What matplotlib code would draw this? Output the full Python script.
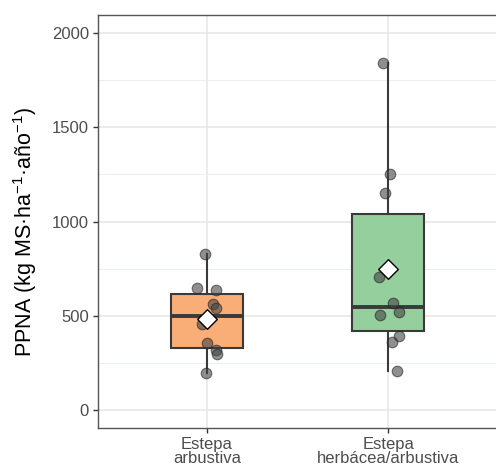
import numpy as np
import matplotlib
matplotlib.use("Agg")
import matplotlib.pyplot as plt
from matplotlib.ticker import MultipleLocator

plt.rcParams['font.family'] = ['Liberation Sans', 'DejaVu Sans']
plt.rcParams['mathtext.fontset'] = 'custom'
plt.rcParams['mathtext.rm'] = 'Liberation Sans'
plt.rcParams['mathtext.it'] = 'Liberation Sans'

# data
categories = ["Estepa\narbustiva", "Estepa\nherbácea/arbustiva"]
ppna_arbustiva = [825, 645, 635, 561, 538, 455, 352, 317, 296, 193]
ppna_herbacea = [1843, 1252, 1149, 706, 568, 520, 504, 391, 361, 207]
# horizontal jitter of each point (category units)
jitter_arbustiva = [-0.01, -0.055, 0.05, 0.033, 0.051, -0.028, 0.003, 0.05, 0.055, -0.004]
jitter_herbacea = [-0.028, 0.009, -0.018, -0.051, 0.024, 0.057, -0.046, 0.061, 0.019, 0.05]

box_colors = ["#F9AE78", "#94CF9D"]
edge = "#3a3a3a"

fig = plt.figure(figsize=(4.96, 4.73), dpi=100)
ax = fig.add_axes([98 / 496, 45 / 473, 399 / 496, 413 / 473])

groups = [ppna_arbustiva, ppna_herbacea]
jitters = [jitter_arbustiva, jitter_herbacea]
positions = [1, 2]

bp = ax.boxplot(groups, positions=positions, widths=0.4, patch_artist=True,
                whis=1.5, showfliers=False, showcaps=False,
                medianprops=dict(color=edge, linewidth=2.8),
                whiskerprops=dict(color=edge, linewidth=1.5),
                boxprops=dict(edgecolor=edge, linewidth=1.5), zorder=2)
for patch, c in zip(bp["boxes"], box_colors):
    patch.set_facecolor(c)

for pos, vals, jit in zip(positions, groups, jitters):
    ax.scatter(pos + np.array(jit), vals, s=58, color="#444444", alpha=0.6,
               edgecolors="#222222", linewidths=0.8, zorder=3)
    ax.scatter([pos], [np.mean(vals)], marker="D", s=100, color="white",
               edgecolors="black", linewidths=1.0, zorder=4)

ax.set_xlim(0.4, 2.6)
ax.set_ylim(-97, 2097)
ax.set_xticks(positions)
ax.set_xticklabels(categories, fontsize=12, color="#4d4d4d", linespacing=0.92)
ax.yaxis.set_major_locator(MultipleLocator(500))
ax.yaxis.set_minor_locator(MultipleLocator(250))
ax.tick_params(axis="y", labelsize=12, labelcolor="#4d4d4d", length=3.5,
               width=1, color="#333333", pad=3)
ax.tick_params(axis="x", length=3.5, width=1, color="#333333", pad=3)
ax.tick_params(which="minor", length=0)

ax.grid(which="major", color="#e3e5e7", linewidth=1.1, zorder=0)
ax.grid(which="minor", color="#eceef0", linewidth=0.8, zorder=0)
ax.set_axisbelow(True)
for side in ["left", "bottom", "top"]:
    ax.spines[side].set_color("#555555")
    ax.spines[side].set_linewidth(1.0)
ax.spines["right"].set_visible(False)

ax.set_ylabel("PPNA (kg MS·ha$^{-1}$·año$^{-1}$)", fontsize=15.5, color="black")
ax.yaxis.set_label_coords(-0.148, 0.475)

fig.savefig("out.png", dpi=100)
